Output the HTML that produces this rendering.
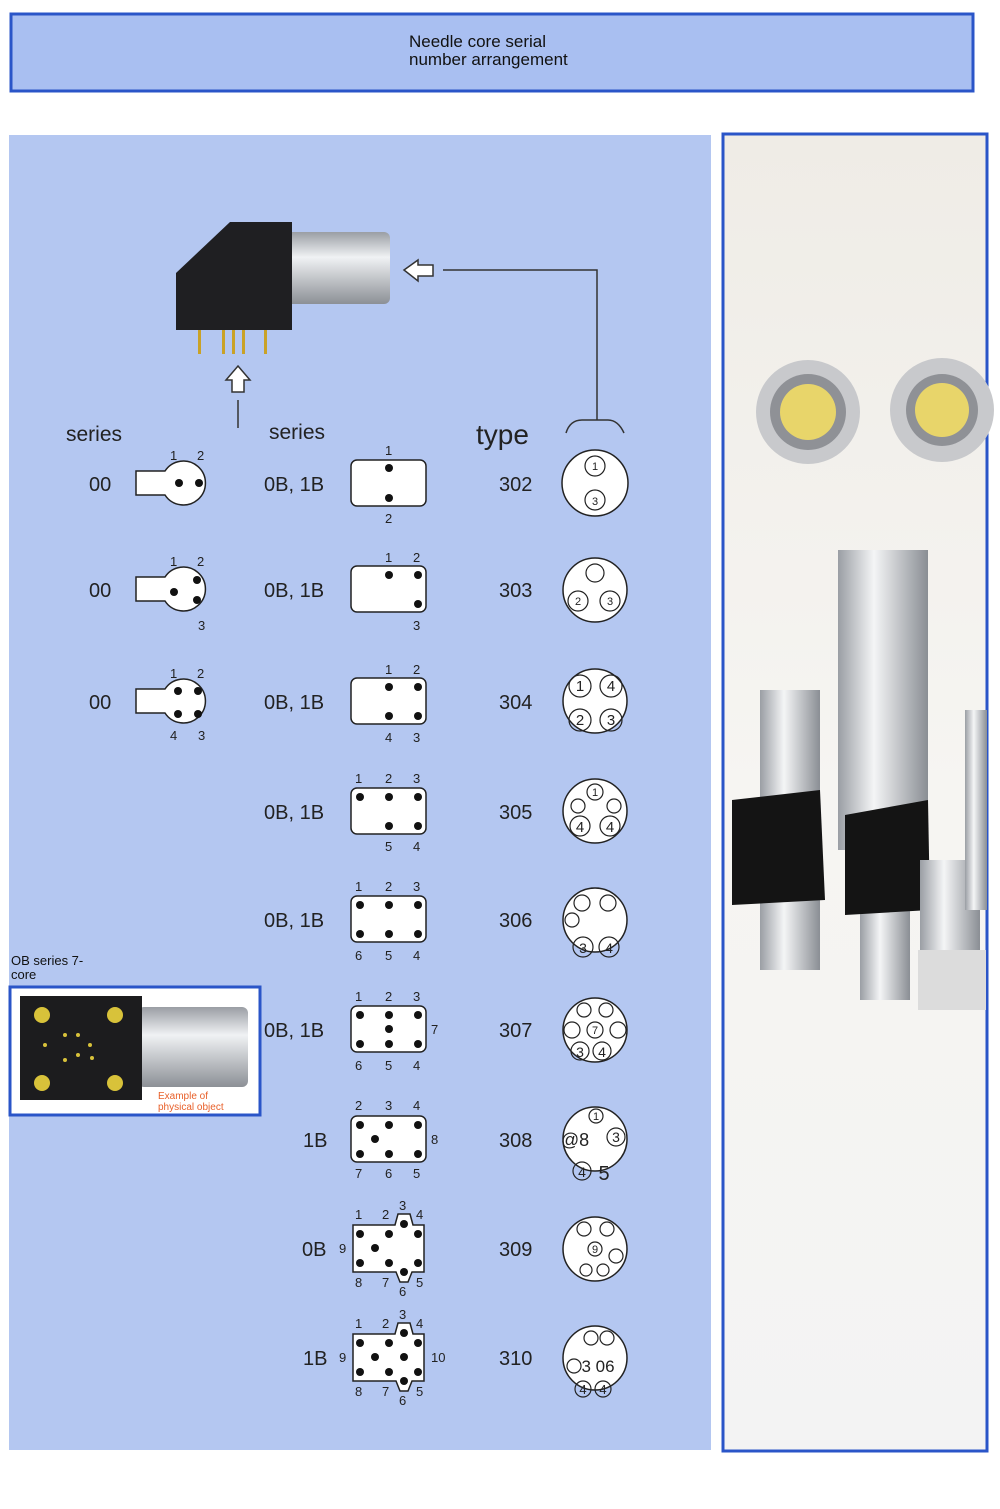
<!DOCTYPE html>
<html><head><meta charset="utf-8"><style>
body{margin:0;background:#fff;width:1000px;height:1504px;overflow:hidden;font-family:"Liberation Sans","DejaVu Sans",sans-serif}
</style></head><body>
<svg width="1000" height="1504" viewBox="0 0 1000 1504" xmlns="http://www.w3.org/2000/svg" font-family="Liberation Sans, DejaVu Sans, sans-serif">
<defs>
<linearGradient id="cyl" x1="0" y1="0" x2="0" y2="1"><stop offset="0" stop-color="#9a9ea4"/><stop offset=".35" stop-color="#f0f2f4"/><stop offset="1" stop-color="#8c9096"/></linearGradient>
<linearGradient id="cylv" x1="0" y1="0" x2="1" y2="0"><stop offset="0" stop-color="#9a9ea4"/><stop offset=".4" stop-color="#f4f5f6"/><stop offset="1" stop-color="#8a8e94"/></linearGradient>
<linearGradient id="bg2" x1="0" y1="0" x2="0" y2="1"><stop offset="0" stop-color="#efece6"/><stop offset=".5" stop-color="#f6f5f2"/><stop offset="1" stop-color="#f3f3f3"/></linearGradient>
</defs>
<!-- header -->
<rect x="11" y="14" width="962" height="77" fill="#a9bff1" stroke="#2a55c8" stroke-width="3"/>
<text x="409" y="47" font-size="17" fill="#111">Needle core serial</text>
<text x="409" y="65" font-size="17" fill="#111">number arrangement</text>
<!-- main panel -->
<rect x="9" y="135" width="702" height="1315" fill="#b4c7f1"/>
<!-- right photo panel -->
<rect x="723" y="134" width="264" height="1317" fill="url(#bg2)" stroke="#2a55c8" stroke-width="3"/>
<g>
<circle cx="808" cy="412" r="52" fill="#c8c9cc"/><circle cx="808" cy="412" r="38" fill="#8f9196"/><circle cx="808" cy="412" r="28" fill="#e8d56a"/>
<circle cx="942" cy="410" r="52" fill="#c8c9cc"/><circle cx="942" cy="410" r="36" fill="#8f9196"/><circle cx="942" cy="410" r="27" fill="#e8d56a"/>
<rect x="838" y="550" width="90" height="300" fill="url(#cylv)"/>
<rect x="860" y="840" width="50" height="160" fill="url(#cylv)"/>
<rect x="760" y="690" width="60" height="280" fill="url(#cylv)"/>
<path d="M732 800 L820 790 L825 900 L732 905 Z" fill="#141414"/>
<path d="M845 815 L928 800 L930 910 L845 915 Z" fill="#141414"/>
<rect x="920" y="860" width="60" height="120" fill="url(#cylv)"/>
<rect x="965" y="710" width="22" height="200" fill="url(#cylv)"/>
<rect x="918" y="950" width="68" height="60" fill="#dcdcdc"/>
</g>
<!-- connector image top -->
<rect x="285" y="232" width="105" height="72" rx="6" fill="url(#cyl)"/>
<path d="M176 273 L230 222 L292 222 L292 330 L176 330 Z" fill="#1f1f22"/>
<g fill="#c9a227"><rect x="198" y="330" width="3" height="24"/><rect x="222" y="330" width="3" height="24"/><rect x="232" y="330" width="3" height="24"/><rect x="242" y="330" width="3" height="24"/><rect x="264" y="330" width="3" height="24"/></g>
<g fill="none" stroke="#333" stroke-width="1.5">
<path d="M404 270 L418 260 L418 265 L433 265 L433 276 L418 276 L418 281 Z" fill="#fff"/>
<path d="M443 270 L597 270 L597 420"/>
<path d="M566 433 Q570 420 582 420 L608 420 Q618 420 624 433"/>
<path d="M238 366 L250 380 L244 380 L244 392 L232 392 L232 380 L226 380 Z" fill="#fff"/>
<path d="M238 400 L238 428"/>
</g>
<g font-size="21" fill="#222">
<text x="66" y="441">series</text><text x="269" y="439">series</text>
<text x="476" y="444" font-size="28">type</text>
</g>
<g font-size="20" fill="#222">
<text x="89" y="491">00</text><text x="89" y="597">00</text><text x="89" y="709">00</text>
<text x="264" y="491">0B, 1B</text><text x="264" y="597">0B, 1B</text><text x="264" y="709">0B, 1B</text>
<text x="264" y="819">0B, 1B</text><text x="264" y="927">0B, 1B</text><text x="264" y="1037">0B, 1B</text>
<text x="303" y="1147">1B</text><text x="302" y="1256">0B</text><text x="303" y="1365">1B</text>
<text x="499" y="491">302</text><text x="499" y="597">303</text><text x="499" y="709">304</text>
<text x="499" y="819">305</text><text x="499" y="927">306</text><text x="499" y="1037">307</text>
<text x="499" y="1147">308</text><text x="499" y="1256">309</text><text x="499" y="1365">310</text>
</g>
<!-- 00 keyhole shapes -->
<g fill="#fff" stroke="#222" stroke-width="1.5">
<path d="M136 471 L165 471 A22 22 0 1 1 165 495 L136 495 Z"/>
<path d="M136 577 L165 577 A22 22 0 1 1 165 601 L136 601 Z"/>
<path d="M136 689 L165 689 A22 22 0 1 1 165 713 L136 713 Z"/>
</g>
<g fill="#111"><circle cx="179" cy="483" r="4"/><circle cx="199" cy="483" r="4"/>
<circle cx="174" cy="592" r="4"/><circle cx="197" cy="580" r="4"/><circle cx="197" cy="600" r="4"/>
<circle cx="178" cy="691" r="4"/><circle cx="198" cy="691" r="4"/><circle cx="178" cy="714" r="4"/><circle cx="198" cy="714" r="4"/></g>
<g font-size="13" fill="#222">
<text x="170" y="460">1</text><text x="197" y="460">2</text>
<text x="170" y="566">1</text><text x="197" y="566">2</text><text x="198" y="630">3</text>
<text x="170" y="678">1</text><text x="197" y="678">2</text><text x="170" y="740">4</text><text x="198" y="740">3</text>
</g>
<!-- rectangles -->
<g fill="#fff" stroke="#222" stroke-width="1.5">
<rect x="351" y="460" width="75" height="46" rx="6"/>
<rect x="351" y="566" width="75" height="46" rx="6"/>
<rect x="351" y="678" width="75" height="46" rx="6"/>
<rect x="351" y="788" width="75" height="46" rx="6"/>
<rect x="351" y="896" width="75" height="46" rx="6"/>
<rect x="351" y="1006" width="75" height="46" rx="6"/>
<rect x="351" y="1116" width="75" height="46" rx="6"/>
<path d="M353 1225 L395 1225 L398 1214 L410 1214 L413 1225 L424 1225 L424 1272 L412 1272 L408 1282 L400 1282 L396 1272 L353 1272 Z"/>
<path d="M353 1334 L395 1334 L398 1323 L410 1323 L413 1334 L424 1334 L424 1381 L412 1381 L408 1391 L400 1391 L396 1381 L353 1381 Z"/>
</g>
<g fill="#111">
<circle cx="389" cy="468" r="4"/><circle cx="389" cy="498" r="4"/>
<circle cx="389" cy="575" r="4"/><circle cx="418" cy="575" r="4"/><circle cx="418" cy="604" r="4"/>
<circle cx="389" cy="687" r="4"/><circle cx="418" cy="687" r="4"/><circle cx="389" cy="716" r="4"/><circle cx="418" cy="716" r="4"/>
<circle cx="360" cy="797" r="4"/><circle cx="389" cy="797" r="4"/><circle cx="418" cy="797" r="4"/><circle cx="389" cy="826" r="4"/><circle cx="418" cy="826" r="4"/>
<circle cx="360" cy="905" r="4"/><circle cx="389" cy="905" r="4"/><circle cx="418" cy="905" r="4"/><circle cx="360" cy="934" r="4"/><circle cx="389" cy="934" r="4"/><circle cx="418" cy="934" r="4"/>
<circle cx="360" cy="1015" r="4"/><circle cx="389" cy="1015" r="4"/><circle cx="418" cy="1015" r="4"/><circle cx="389" cy="1029" r="4"/><circle cx="360" cy="1044" r="4"/><circle cx="389" cy="1044" r="4"/><circle cx="418" cy="1044" r="4"/>
<circle cx="360" cy="1125" r="4"/><circle cx="389" cy="1125" r="4"/><circle cx="418" cy="1125" r="4"/><circle cx="375" cy="1139" r="4"/><circle cx="360" cy="1154" r="4"/><circle cx="389" cy="1154" r="4"/><circle cx="418" cy="1154" r="4"/>
<circle cx="360" cy="1234" r="4"/><circle cx="389" cy="1234" r="4"/><circle cx="404" cy="1224" r="4"/><circle cx="418" cy="1234" r="4"/><circle cx="375" cy="1248" r="4"/><circle cx="360" cy="1263" r="4"/><circle cx="389" cy="1263" r="4"/><circle cx="404" cy="1272" r="4"/><circle cx="418" cy="1263" r="4"/>
<circle cx="360" cy="1343" r="4"/><circle cx="389" cy="1343" r="4"/><circle cx="404" cy="1333" r="4"/><circle cx="418" cy="1343" r="4"/><circle cx="375" cy="1357" r="4"/><circle cx="404" cy="1357" r="4"/><circle cx="360" cy="1372" r="4"/><circle cx="389" cy="1372" r="4"/><circle cx="404" cy="1381" r="4"/><circle cx="418" cy="1372" r="4"/>
</g>
<g font-size="13" fill="#222">
<text x="385" y="455">1</text><text x="385" y="523">2</text>
<text x="385" y="562">1</text><text x="413" y="562">2</text><text x="413" y="630">3</text>
<text x="385" y="674">1</text><text x="413" y="674">2</text><text x="385" y="742">4</text><text x="413" y="742">3</text>
<text x="355" y="783">1</text><text x="385" y="783">2</text><text x="413" y="783">3</text><text x="385" y="851">5</text><text x="413" y="851">4</text>
<text x="355" y="891">1</text><text x="385" y="891">2</text><text x="413" y="891">3</text><text x="355" y="960">6</text><text x="385" y="960">5</text><text x="413" y="960">4</text>
<text x="355" y="1001">1</text><text x="385" y="1001">2</text><text x="413" y="1001">3</text><text x="431" y="1034">7</text><text x="355" y="1070">6</text><text x="385" y="1070">5</text><text x="413" y="1070">4</text>
<text x="355" y="1110">2</text><text x="385" y="1110">3</text><text x="413" y="1110">4</text><text x="431" y="1144">8</text><text x="355" y="1178">7</text><text x="385" y="1178">6</text><text x="413" y="1178">5</text>
<text x="355" y="1219">1</text><text x="382" y="1219">2</text><text x="399" y="1210">3</text><text x="416" y="1219">4</text><text x="339" y="1253">9</text><text x="355" y="1287">8</text><text x="382" y="1287">7</text><text x="399" y="1296">6</text><text x="416" y="1287">5</text>
<text x="355" y="1328">1</text><text x="382" y="1328">2</text><text x="399" y="1319">3</text><text x="416" y="1328">4</text><text x="339" y="1362">9</text><text x="431" y="1362">10</text><text x="355" y="1396">8</text><text x="382" y="1396">7</text><text x="399" y="1405">6</text><text x="416" y="1396">5</text>
</g>
<!-- type circles -->
<g fill="#fff" stroke="#222" stroke-width="1.5">
<circle cx="595" cy="483" r="33"/><circle cx="595" cy="590" r="32"/><circle cx="595" cy="701" r="32"/>
<circle cx="595" cy="811" r="32"/><circle cx="595" cy="920" r="32"/><circle cx="595" cy="1030" r="32"/>
<circle cx="595" cy="1139" r="32"/><circle cx="595" cy="1249" r="32"/><circle cx="595" cy="1358" r="32"/>
</g>
<g fill="none" stroke="#222" stroke-width="1.2">
<circle cx="595" cy="466" r="10"/><circle cx="595" cy="500" r="10"/>
<circle cx="595" cy="573" r="9"/><circle cx="578" cy="601" r="10"/><circle cx="610" cy="601" r="10"/>
<circle cx="580" cy="686" r="11"/><circle cx="611" cy="686" r="11"/><circle cx="580" cy="720" r="11"/><circle cx="611" cy="720" r="11"/>
<circle cx="595" cy="792" r="8"/><circle cx="578" cy="806" r="7"/><circle cx="614" cy="806" r="7"/><circle cx="580" cy="826" r="10"/><circle cx="610" cy="826" r="10"/>
<circle cx="582" cy="903" r="8"/><circle cx="608" cy="903" r="8"/><circle cx="572" cy="920" r="7"/><circle cx="583" cy="947" r="10"/><circle cx="609" cy="947" r="10"/>
<circle cx="584" cy="1010" r="7"/><circle cx="606" cy="1010" r="7"/><circle cx="572" cy="1030" r="8"/><circle cx="595" cy="1030" r="8"/><circle cx="618" cy="1030" r="8"/><circle cx="580" cy="1051" r="9"/><circle cx="602" cy="1051" r="9"/>
<circle cx="596" cy="1116" r="7"/><circle cx="616" cy="1137" r="9"/><circle cx="582" cy="1171" r="9"/>
<circle cx="584" cy="1229" r="7"/><circle cx="607" cy="1229" r="7"/><circle cx="595" cy="1249" r="7"/><circle cx="616" cy="1256" r="7"/><circle cx="586" cy="1270" r="6"/><circle cx="603" cy="1270" r="6"/>
<circle cx="591" cy="1338" r="7"/><circle cx="607" cy="1338" r="7"/><circle cx="574" cy="1366" r="7"/><circle cx="583" cy="1389" r="8"/><circle cx="603" cy="1389" r="8"/>
</g>
<g font-size="11" fill="#222" text-anchor="middle">
<text x="595" y="470">1</text><text x="595" y="505">3</text><text x="578" y="605">2</text><text x="610" y="605">3</text>
<text x="580" y="691" font-size="15">1</text><text x="611" y="691" font-size="15">4</text><text x="580" y="725" font-size="15">2</text><text x="611" y="725" font-size="15">3</text>
<text x="595" y="796">1</text><text x="580" y="832" font-size="15">4</text><text x="610" y="832" font-size="15">4</text>
<text x="583" y="953" font-size="14">3</text><text x="609" y="953" font-size="14">4</text>
<text x="580" y="1057" font-size="14">3</text><text x="602" y="1057" font-size="14">4</text><text x="595" y="1034">7</text>
<text x="575" y="1146" font-size="18">@8</text><text x="596" y="1120">1</text><text x="616" y="1142" font-size="14">3</text><text x="582" y="1177" font-size="14">4</text><text x="604" y="1180" font-size="20">5</text>
<text x="595" y="1253">9</text>
<text x="598" y="1372" font-size="17">3 06</text><text x="583" y="1394" font-size="13">4</text><text x="603" y="1394" font-size="13">4</text>
</g>
<!-- OB series example -->
<text x="11" y="965" font-size="13" fill="#111">OB series 7-</text>
<text x="11" y="979" font-size="13" fill="#111">core</text>
<rect x="10" y="987" width="250" height="128" fill="#fff" stroke="#2a55c8" stroke-width="3"/>
<rect x="138" y="1007" width="110" height="80" rx="6" fill="url(#cyl)"/>
<rect x="20" y="996" width="122" height="104" fill="#1c1c1e"/>
<g fill="#d8c23a"><circle cx="42" cy="1015" r="8"/><circle cx="115" cy="1015" r="8"/><circle cx="42" cy="1083" r="8"/><circle cx="115" cy="1083" r="8"/>
<circle cx="65" cy="1035" r="2"/><circle cx="78" cy="1035" r="2"/><circle cx="90" cy="1045" r="2"/><circle cx="45" cy="1045" r="2"/><circle cx="78" cy="1055" r="2"/><circle cx="65" cy="1060" r="2"/><circle cx="92" cy="1058" r="2"/></g>
<text x="158" y="1099" font-size="10" fill="#e8602a">Example of</text>
<text x="158" y="1110" font-size="10" fill="#e8602a">physical object</text>
</svg>
</body></html>
